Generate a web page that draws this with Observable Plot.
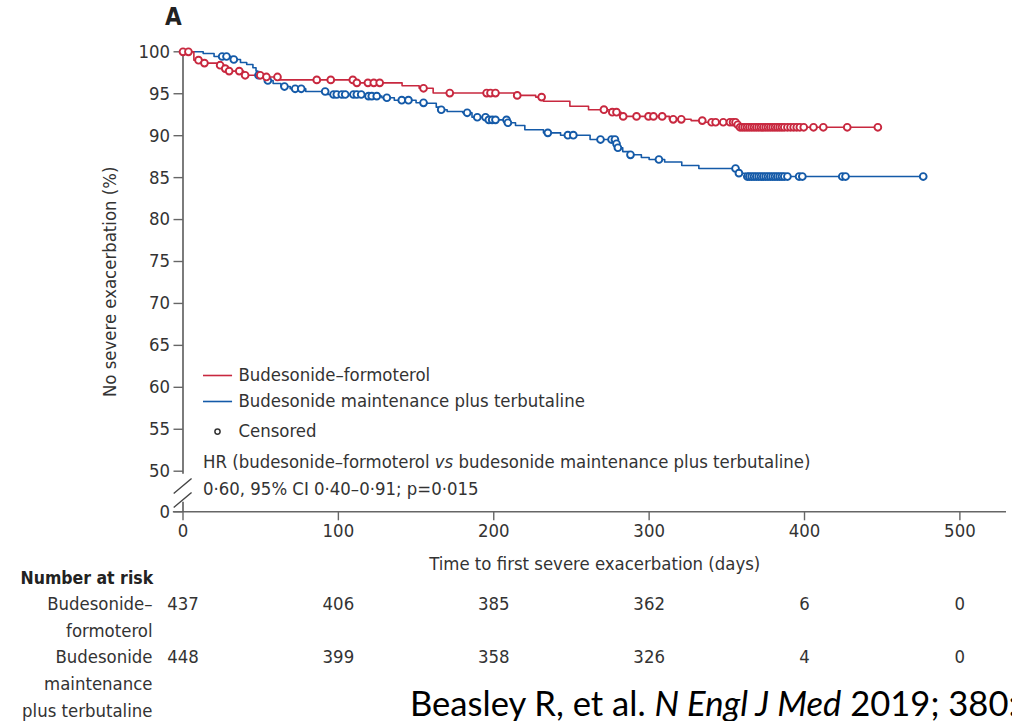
<!DOCTYPE html>
<html><head><meta charset="utf-8">
<script src="https://cdn.jsdelivr.net/npm/d3@7"></script>
<script src="https://cdn.jsdelivr.net/npm/@observablehq/plot@0.6"></script>
<style>
html,body{margin:0;padding:0;background:#fff;overflow:hidden;}
</style></head><body><div id="chart"></div>
<script>
// ---------------- data ----------------
const groupNames = ["Budesonide–formoterol", "Budesonide maintenance plus terbutaline"];

// Budesonide–formoterol: step times (days) and survival (%)
const redStepDays = [0, 7, 12, 23, 26.5, 29, 39, 51, 62, 111, 141, 152, 161, 213, 227, 232, 249, 261, 275, 282, 313, 327, 336, 356.5, 358];
const redStepSurv = [100, 99.0, 98.65, 98.4, 98.0, 97.7, 97.2, 97.0, 96.65, 96.3, 95.95, 95.65, 95.08, 94.8, 94.6, 94.1, 93.5, 93.1, 92.8, 92.3, 91.95, 91.8, 91.6, 91.3, 91.0];
const redLastDay = 447.2;
const redCensorDays = [0, 3.5, 10, 13.8, 23.9, 27.2, 29.7, 36.2, 40, 49.7, 53.7, 60.8, 86.1, 95.1, 109.3, 111.9, 119, 122.8, 126.6, 154.8, 171.7, 195.4, 197.9, 201.1, 215.1, 230.8, 270.9, 276.3, 279, 283.3, 291.9, 299.6, 302.8, 308.4, 315.5, 320.7, 334.2, 340.2, 342.8, 347.7, 352, 354, 355.6, 357, 358.5, 360, 361.5, 363, 364.5, 366, 367.5, 369, 370.5, 372, 373.5, 375, 376.5, 378, 379.5, 381, 382.5, 384, 385.5, 387, 389, 391, 393, 395, 397, 399.5, 405.8, 412.1, 427.5, 447.2];

// Budesonide maintenance plus terbutaline
const blueStepDays = [0, 13, 20, 32, 37, 41, 45, 47, 48, 52, 54, 58, 63, 69, 79, 93, 116, 128, 136, 150, 157, 163, 165, 170, 180, 186, 196, 209, 214, 220, 232, 243, 262, 278.5, 279.5, 283, 287, 295, 300, 310, 321, 332, 357, 362];
const blueStepSurv = [100, 99.8, 99.44, 99.08, 98.72, 98.49, 98.1, 97.7, 97.21, 96.94, 96.58, 96.22, 95.86, 95.59, 95.27, 94.91, 94.71, 94.52, 94.23, 93.92, 93.87, 93.4, 93.09, 92.88, 92.73, 92.2, 91.89, 91.54, 91.21, 90.7, 90.34, 90.06, 89.54, 89.03, 88.56, 88.1, 87.72, 87.4, 87.16, 86.86, 86.44, 86.09, 85.53, 85.13];
const blueLastDay = 476.4;
const blueCensorDays = [25.2, 28, 32.7, 48.6, 54.6, 65.3, 72.2, 76.1, 91.5, 96.9, 99, 102.2, 104.4, 109.7, 111.9, 114.7, 119.4, 121.5, 124.7, 131.2, 140.8, 145.1, 154.8, 166.2, 182.9, 189.4, 194.7, 196.8, 199, 201.1, 208.2, 209.1, 234.8, 247.7, 251.2, 268.7, 275.8, 278, 279, 279.9, 288, 306.3, 355.6, 357.8, 363.2, 364.5, 366, 367.5, 369, 370.5, 372, 373.5, 375, 376.5, 378, 379.5, 381, 382.5, 384, 385.5, 387, 389, 396.5, 398.6, 424.3, 426.4, 476.4];

const xTicks = [0, 100, 200, 300, 400, 500];
const yTicks = [50, 55, 60, 65, 70, 75, 80, 85, 90, 95, 100];

const riskTimes = [0, 100, 200, 300, 400, 500];
const riskBF  = [437, 406, 385, 362, 6, 0];
const riskBMT = [448, 399, 358, 326, 4, 0];
const riskLabelLines = [["Budesonide–", "formoterol"], ["Budesonide", "maintenance", "plus terbutaline"]];

// ---------------- build tables ----------------
const red = "#c8283f", blue = "#145aa8", ink = "#333333", axisInk = "#666666";
const FONT = '"Liberation Sans Narrow", "DejaVu Sans Condensed", "Roboto Condensed", Roboto, sans-serif';

function steps(days, surv, last, group) {
  const rows = days.map((d, i) => ({day: d, surv: surv[i], group}));
  rows.push({day: last, surv: surv[surv.length - 1], group});
  return rows;
}
function levelAt(days, surv, t) {
  let v = surv[0];
  for (let i = 0; i < days.length; i++) if (days[i] <= t) v = surv[i];
  return v;
}
const redSteps = steps(redStepDays, redStepSurv, redLastDay, groupNames[0]);
const blueSteps = steps(blueStepDays, blueStepSurv, blueLastDay, groupNames[1]);
const redCens = redCensorDays.map(d => ({day: d, surv: levelAt(redStepDays, redStepSurv, d)}));
const blueCens = blueCensorDays.map(d => ({day: d, surv: levelAt(blueStepDays, blueStepSurv, d)}));

// ---------------- layout ----------------
const W = 1012, H = 721;
const frameTop = 51.3, frameBottom = 511.3, frameLeft = 182.5, frameRight = 1006;
const yZero = 45.16; // where the broken axis puts "0"
const FS = 18.4;

const riskRowCenters = [604, 657];
const riskLineGap = 26.7;

const riskMarks = [];
[riskBF, riskBMT].forEach((vals, r) => {
  riskMarks.push(Plot.text(riskTimes.map((t, i) => ({t, n: vals[i]})), {
    x: "t", text: d => String(d.n), frameAnchor: "bottom", dy: riskRowCenters[r] - frameBottom,
    lineAnchor: "middle", textAnchor: "middle", fill: ink, fontSize: FS
  }));
  riskLabelLines[r].forEach((line, k) => {
    riskMarks.push(Plot.text([line], {
      frameAnchor: "bottom-left", dx: 152 - frameLeft, dy: riskRowCenters[r] + k * riskLineGap - frameBottom,
      lineAnchor: "middle", textAnchor: "end", fill: ink, fontSize: FS
    }));
  });
});

const legendRows = [
  {name: groupNames[0], color: red, y: 61.41},
  {name: groupNames[1], color: blue, y: 58.31}
];

const plot = Plot.plot({
  width: W, height: H,
  marginTop: frameTop, marginBottom: H - frameBottom, marginLeft: frameLeft, marginRight: W - frameRight,
  style: {fontFamily: FONT, fontSize: FS + "px", background: "white", color: ink},
  x: {domain: [0, 530]},
  y: {domain: [yZero, 100]},
  marks: [
    Plot.axisX({ticks: xTicks, tickSize: 9, tickPadding: 3, stroke: axisInk, strokeWidth: 1.4, fill: ink, fontSize: FS,
      label: "Time to first severe exacerbation (days)", labelAnchor: "center", labelArrow: "none", labelOffset: 58}),
    Plot.axisY({ticks: [yZero, ...yTicks], tickFormat: d => d === yZero ? "0" : String(d), tickSize: 9, tickPadding: 4,
      stroke: axisInk, strokeWidth: 1.4, fill: ink, fontSize: FS,
      label: "No severe exacerbation (%)", labelAnchor: "center", labelArrow: "none", labelOffset: 80}),
    Plot.ruleY([yZero], {x1: -6.2, x2: 530, stroke: axisInk, strokeWidth: 1.4}),
    Plot.ruleX([0], {y1: 49.65, y2: 100, stroke: "#444", strokeWidth: 1.4}),
    Plot.ruleX([0], {y1: yZero, y2: 46.3, stroke: "#444", strokeWidth: 1.4}),
    Plot.link([0], {x1: -6, x2: 5.5, y1: 47.34, y2: 49.13, stroke: "#444", strokeWidth: 1.4}),
    Plot.link([0], {x1: -6, x2: 5.5, y1: 45.67, y2: 47.46, stroke: "#444", strokeWidth: 1.4}),

    Plot.line(blueSteps, {x: "day", y: "surv", curve: "step-after", stroke: blue, strokeWidth: 1.6}),
    Plot.line(redSteps, {x: "day", y: "surv", curve: "step-after", stroke: red, strokeWidth: 1.6}),
    Plot.dot(blueCens, {x: "day", y: "surv", r: 3.4, stroke: blue, fill: "white", strokeWidth: 1.9}),
    Plot.dot(redCens, {x: "day", y: "surv", r: 3.4, stroke: red, fill: "white", strokeWidth: 1.9}),

    // legend
    Plot.ruleY(legendRows, {y: "y", x1: 13.2, x2: 31.9, stroke: "color", strokeWidth: 1.6}),
    Plot.text(legendRows, {y: "y", x: 35.7, text: "name", textAnchor: "start", fill: ink, fontSize: FS}),
    Plot.dot(["Censored"], {x: 22.2, y: 54.73, r: 2.6, stroke: ink, fill: "white", strokeWidth: 1.5}),
    Plot.text(["Censored"], {x: 35.7, y: 54.73, textAnchor: "start", fill: ink, fontSize: FS}),

    // number at risk
    Plot.text(["Number at risk"], {frameAnchor: "bottom-left", dx: 20 - frameLeft, dy: 578 - frameBottom,
      textAnchor: "start", lineAnchor: "middle", fontWeight: "bold", fill: "#222", fontSize: 17.5}),
    ...riskMarks
  ]
});

const sx = plot.scale("x"), sy = plot.scale("y");
const svg = d3.select(plot);

// HR annotation
const hr1 = svg.append("text").attr("x", sx.apply(13.2)).attr("y", sy.apply(51.04)).attr("dy", "0.35em")
  .attr("text-anchor", "start").attr("font-size", FS).attr("fill", ink);
hr1.append("tspan").text("HR (budesonide–formoterol ");
hr1.append("tspan").attr("font-style", "italic").text("vs");
hr1.append("tspan").text(" budesonide maintenance plus terbutaline)");
svg.append("text").attr("x", sx.apply(13.2)).attr("y", sy.apply(47.82)).attr("dy", "0.35em")
  .attr("text-anchor", "start").attr("font-size", FS).attr("fill", ink).text("0·60, 95% CI 0·40–0·91; p=0·015");

// panel letter
svg.append("text").attr("x", 165).attr("y", 25).attr("text-anchor", "start").attr("font-size", 24)
  .attr("font-weight", "bold").attr("fill", "#222").text("A");

// citation
const cit = svg.append("text").attr("x", 410).attr("y", 716).attr("text-anchor", "start")
  .attr("font-family", "Lato, 'Open Sans', sans-serif").attr("font-size", 34.6).attr("fill", "#000");
cit.append("tspan").text("Beasley R, et al. ");
cit.append("tspan").attr("font-style", "italic").text("N Engl J Med");
cit.append("tspan").text(" 2019; 380:1865–74");

document.getElementById("chart").appendChild(plot);
</script></body></html>
